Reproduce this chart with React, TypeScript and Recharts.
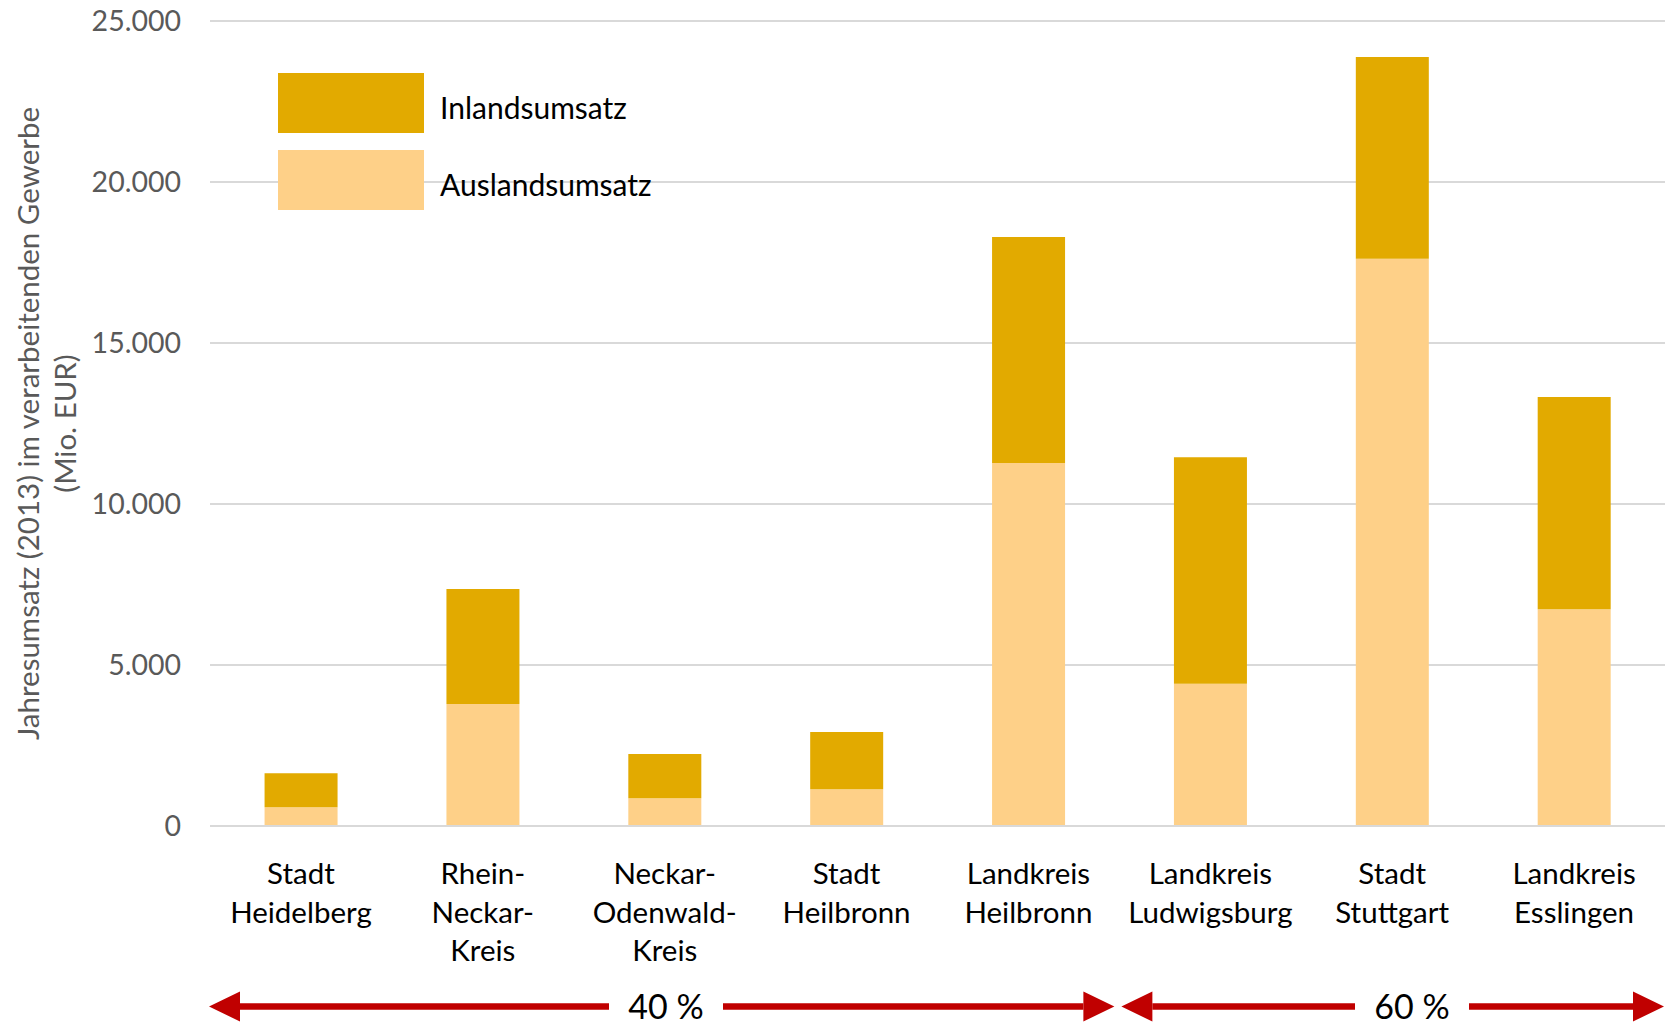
import { BarChart, Bar, XAxis, YAxis, CartesianGrid, Legend, Customized } from 'recharts';

const categories = [
  'Stadt\nHeidelberg',
  'Rhein-\nNeckar-\nKreis',
  'Neckar-\nOdenwald-\nKreis',
  'Stadt\nHeilbronn',
  'Landkreis\nHeilbronn',
  'Landkreis\nLudwigsburg',
  'Stadt\nStuttgart',
  'Landkreis\nEsslingen',
];

// Mio. EUR, 2013
const auslandsumsatz = [580, 3790, 860, 1140, 11270, 4420, 17620, 6730];
const inlandsumsatz = [1060, 3570, 1375, 1780, 7020, 7030, 6260, 6590];

const yTicks = [0, 5000, 10000, 15000, 20000, 25000];

// share of the region, grouped by category index
const shares = [
  { label: '40 %', from: 0, to: 5, labelX: 666 },
  { label: '60 %', from: 5, to: 8, labelX: 1412 },
];

const data = categories.map((name, i) => ({
  name,
  ausland: auslandsumsatz[i],
  inland: inlandsumsatz[i],
}));

const WIDTH = 1667;
const HEIGHT = 1022;
const MARGIN = { top: 21, right: 2, bottom: 56, left: 80 };
const Y_AXIS_WIDTH = 130;
const X_AXIS_HEIGHT = 140;
const PLOT_LEFT = MARGIN.left + Y_AXIS_WIDTH;
const PLOT_RIGHT = WIDTH - MARGIN.right;

const FONT = 'Lato, Calibri, sans-serif';
const DARK = '#E2AA00';
const LIGHT = '#FED088';
const RED = '#C00000';
const GRID = '#D9D9D9';

const formatThousands = (v: number) => String(v).replace(/\B(?=(\d{3})+(?!\d))/g, '.');

function CategoryTick({ x, y, payload }: any) {
  const lines = String(payload.value).split('\n');
  return (
    <text x={x} y={y + 58} textAnchor="middle" fontSize={29.5} fontFamily={FONT} fill="#000">
      {lines.map((line, i) => (
        <tspan key={i} x={x} dy={i === 0 ? 0 : 38.5}>
          {line}
        </tspan>
      ))}
    </text>
  );
}

function YTitle({ viewBox }: any) {
  const cy = viewBox ? viewBox.y + viewBox.height / 2 : 424;
  const lines = [
    { text: 'Jahresumsatz (2013) im verarbeitenden Gewerbe', x: 27 },
    { text: '(Mio. EUR)', x: 64 },
  ];
  return (
    <g>
      {lines.map((l) => (
        <text
          key={l.text}
          x={l.x}
          y={cy}
          transform={`rotate(-90, ${l.x}, ${cy})`}
          textAnchor="middle"
          dominantBaseline="central"
          fontSize={29.5}
          fontFamily={FONT}
          fill="#595959"
        >
          {l.text}
        </text>
      ))}
    </g>
  );
}

function LegendBox({ payload }: any) {
  const items = [...(payload || [])].reverse();
  return (
    <div style={{ fontFamily: FONT }}>
      {items.map((item: any, i: number) => (
        <div key={item.value} style={{ display: 'flex', alignItems: 'center', marginTop: i === 0 ? 0 : 17 }}>
          <div style={{ width: 146, height: 60, background: item.color }} />
          <span style={{ marginLeft: 16, fontSize: 30, color: '#000', lineHeight: '60px', position: 'relative', top: 4 }}>
            {item.value}
          </span>
        </div>
      ))}
    </div>
  );
}

function ShareArrows() {
  const band = (PLOT_RIGHT - PLOT_LEFT) / categories.length;
  const y = 1006.5;
  const head = 31;
  const half = 15;
  const gap = 57;
  return (
    <g>
      {shares.map((s) => {
        const x1 = PLOT_LEFT + s.from * band + (s.from === 0 ? -1 : 2);
        const x2 = PLOT_LEFT + s.to * band - (s.to === categories.length ? 1 : 5);
        return (
          <g key={s.label}>
            <line x1={x1 + head} x2={s.labelX - gap} y1={y} y2={y} stroke={RED} strokeWidth={6.5} />
            <line x1={s.labelX + gap} x2={x2 - head} y1={y} y2={y} stroke={RED} strokeWidth={6.5} />
            <polygon points={`${x1},${y} ${x1 + head},${y - half} ${x1 + head},${y + half}`} fill={RED} />
            <polygon points={`${x2},${y} ${x2 - head},${y - half} ${x2 - head},${y + half}`} fill={RED} />
            <text x={s.labelX} y={1019} textAnchor="middle" fontSize={34} fontFamily={FONT} fill="#000">
              {s.label}
            </text>
          </g>
        );
      })}
    </g>
  );
}

export default function App() {
  return (
    <div style={{ position: 'absolute', left: 0, top: 0, background: '#fff' }}>
      <BarChart width={WIDTH} height={HEIGHT} data={data} margin={MARGIN} barCategoryGap="30%">
        <CartesianGrid vertical={false} stroke={GRID} strokeWidth={2} />
        <XAxis
          dataKey="name"
          height={X_AXIS_HEIGHT}
          interval={0}
          tickLine={false}
          tickSize={0}
          tickMargin={0}
          axisLine={{ stroke: GRID, strokeWidth: 2 }}
          tick={<CategoryTick />}
        />
        <YAxis
          width={Y_AXIS_WIDTH}
          domain={[0, 25000]}
          ticks={yTicks}
          tickFormatter={formatThousands}
          tickLine={false}
          axisLine={false}
          tickSize={0}
          tickMargin={29}
          tick={{ fill: '#595959', fontSize: 28.5, fontFamily: FONT }}
          label={{ content: <YTitle /> }}
        />
        <Legend
          layout="vertical"
          align="center"
          verticalAlign="middle"
          content={<LegendBox />}
          wrapperStyle={{ left: 278, top: 73, width: 400 }}
        />
        <Bar dataKey="ausland" name="Auslandsumsatz" stackId="umsatz" fill={LIGHT} isAnimationActive={false} />
        <Bar dataKey="inland" name="Inlandsumsatz" stackId="umsatz" fill={DARK} isAnimationActive={false} />
        <Customized component={ShareArrows} />
      </BarChart>
    </div>
  );
}
